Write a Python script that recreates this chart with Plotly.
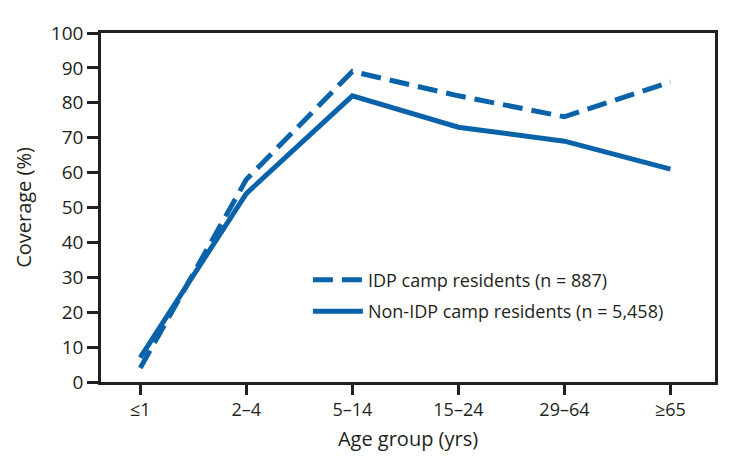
import plotly.graph_objects as go

categories = ["≤1", "2–4", "5–14", "15–24", "29–64", "≥65"]
idp_values = [4, 58, 89, 82, 76, 86]
non_idp_values = [7, 54, 82, 73, 69, 61]
idp_name = "IDP camp residents (n = 887)"
non_idp_name = "Non-IDP camp residents (n = 5,458)"

blue = "#0a62a9"
ink = "#231f20"
font_family = "Open Sans, Noto Sans, sans-serif"
xpos = list(range(len(categories)))

fig = go.Figure()
fig.add_trace(go.Scatter(x=xpos, y=idp_values, mode="lines", name=idp_name,
                         legendgroup="a",
                         line=dict(color=blue, width=5, dash="20px,9px")))
fig.add_trace(go.Scatter(x=xpos, y=non_idp_values, mode="lines", name=non_idp_name,
                         legendgroup="b",
                         line=dict(color=blue, width=5)))

# page body has an 8px default margin, so the figure is sized to fill the window
fig.update_layout(
    width=722, height=460,
    margin=dict(l=93, r=13, t=13, b=86),
    paper_bgcolor="white", plot_bgcolor="white",
    font=dict(family=font_family, size=18, color=ink),
    showlegend=True,
    legend=dict(x=0.337, y=0.345, xanchor="left", yanchor="top",
                bgcolor="rgba(0,0,0,0)", font=dict(size=18, color=ink),
                itemwidth=50, tracegroupgap=5),
    xaxis=dict(
        range=[-0.37, 5.42], tickmode="array", tickvals=xpos, ticktext=categories,
        showgrid=False, zeroline=False, showline=True, linecolor=ink,
        linewidth=2.5, mirror=True, ticks="outside", ticklen=10, tickwidth=2.5,
        tickcolor=ink, tickfont=dict(size=18),
        title=dict(text="Age group (yrs)", font=dict(size=20), standoff=12),
    ),
    yaxis=dict(
        range=[0, 100], tickmode="array", tickvals=list(range(0, 101, 10)),
        showgrid=False, zeroline=False, showline=True, linecolor=ink,
        linewidth=2.5, mirror=True, ticks="outside", ticklen=11, tickwidth=2.5,
        tickcolor=ink, tickfont=dict(size=19),
        title=dict(text="Coverage (%)", font=dict(size=20), standoff=14),
    ),
)

fig.write_html("out.html")
